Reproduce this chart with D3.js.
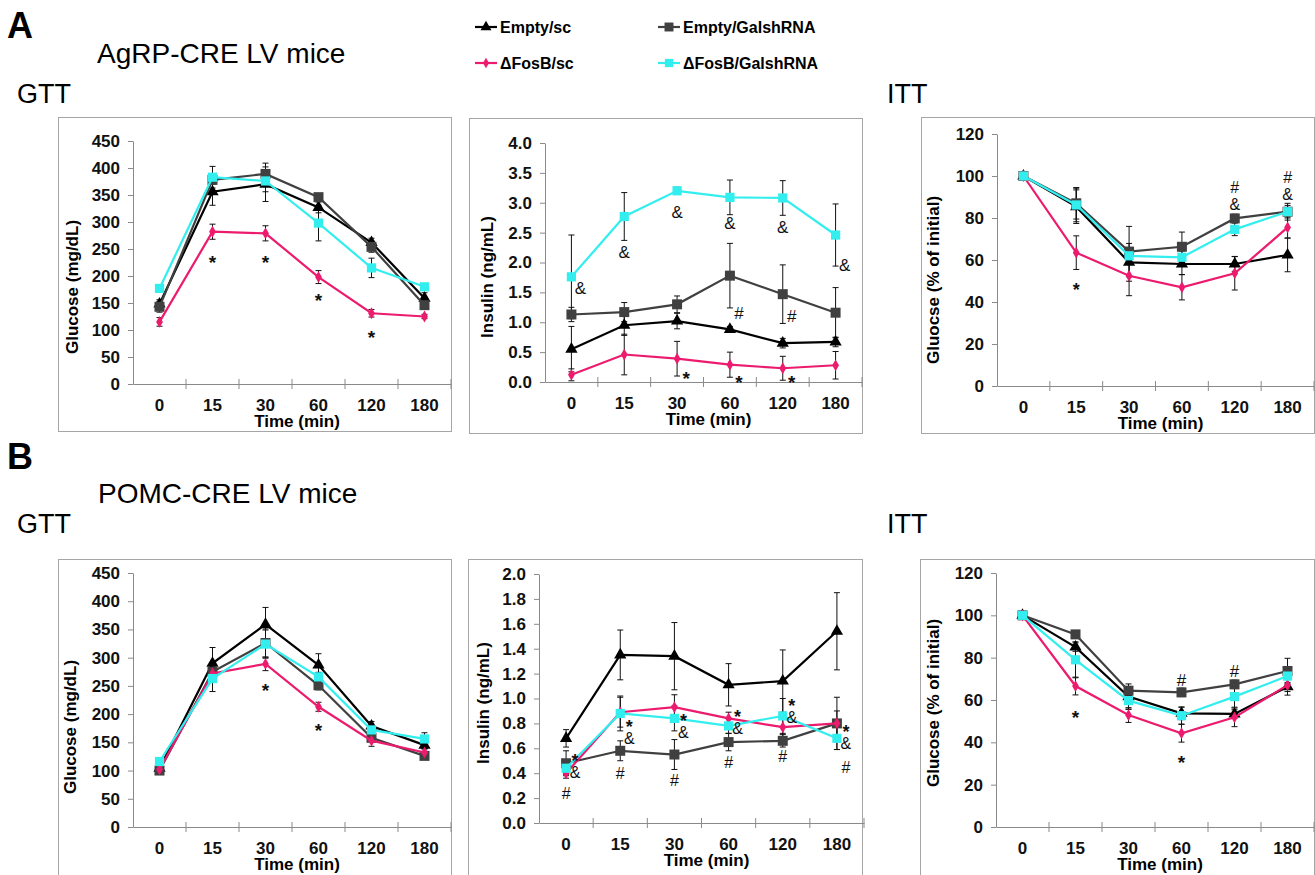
<!DOCTYPE html>
<html>
<head>
<meta charset="utf-8">
<script src="https://cdn.jsdelivr.net/npm/d3@7"></script>
<style>
  body { margin: 0; background: #fff; }
  text { font-family: "Liberation Sans", Arial, sans-serif; }
</style>
</head>
<body>
<div id="fig"></div>
<script>
// time points (categorical axis) and groups
const times = ["0", "15", "30", "60", "120", "180"];
const groups = ["Empty/sc", "Empty/GalshRNA", "ΔFosB/sc", "ΔFosB/GalshRNA"];

// AgRP-CRE, GTT (mg/dL) - rows follow groups
const agrpGttMean = [
  [148, 356, 370, 327, 262, 159],
  [143, 378, 389, 346, 254, 146],
  [115, 282, 279, 198, 131, 125],
  [177, 383, 376, 298, 215, 180]
];
const agrpGttErr = [
  [8, 25, 32, 10, 8, 10],
  [10, 8, 20, 5, 10, 8],
  [8, 14, 14, 12, 7, 4],
  [5, 20, 20, 33, 18, 5]
];
// AgRP-CRE, insulin (ng/mL)
const agrpInsMean = [
  [0.55, 0.95, 1.02, 0.88, 0.65, 0.67],
  [1.13, 1.17, 1.30, 1.78, 1.47, 1.16],
  [0.12, 0.46, 0.39, 0.29, 0.23, 0.28],
  [1.76, 2.77, 3.20, 3.09, 3.08, 2.46]
];
const agrpInsErr = [
  [0.38, 0.17, 0.13, 0.05, 0.08, 0.08],
  [0.12, 0.16, 0.14, 0.54, 0.49, 0.42],
  [0.10, 0.34, 0.29, 0.21, 0.20, 0.23],
  [0.70, 0.40, 0.06, 0.29, 0.29, 0.52]
];
// AgRP-CRE, ITT (% of initial)
const agrpIttMean = [
  [100, 85.4, 58.9, 58.1, 58.1, 62.4],
  [100, 87, 64, 66.3, 79.8, 83],
  [100, 63.5, 52.5, 47, 53.7, 75.5],
  [100, 86.2, 62, 61.3, 74.6, 83]
];
const agrpIttErr = [
  [0, 8, 9, 5, 3.5, 8],
  [0, 7.5, 12, 7, 2, 4],
  [0, 8, 9.5, 6, 8, 5],
  [0, 8, 4, 3, 3, 3]
];
// POMC-CRE, GTT
const pomcGttMean = [
  [104, 290, 359, 287, 179, 145],
  [100, 275, 326, 251, 158, 126],
  [102, 272, 289, 213, 153, 132],
  [116, 263, 324, 266, 172, 156]
];
const pomcGttErr = [
  [6, 28, 30, 20, 8, 6],
  [5, 10, 25, 8, 6, 5],
  [5, 8, 12, 8, 10, 6],
  [5, 23, 25, 8, 6, 11]
];
// POMC-CRE, insulin
const pomcInsMean = [
  [0.68, 1.35, 1.34, 1.11, 1.14, 1.54],
  [0.48, 0.58, 0.55, 0.65, 0.66, 0.80],
  [0.40, 0.89, 0.93, 0.84, 0.77, 0.80],
  [0.44, 0.88, 0.84, 0.78, 0.86, 0.68]
];
const pomcInsErr = [
  [0.07, 0.20, 0.27, 0.17, 0.25, 0.31],
  [0.10, 0.08, 0.12, 0.07, 0.05, 0.21],
  [0.04, 0.12, 0.10, 0.05, 0.10, 0.10],
  [0.05, 0.14, 0.10, 0.06, 0.14, 0.09]
];
// POMC-CRE, ITT
const pomcIttMean = [
  [100, 85, 61.6, 53.7, 53.4, 66.3],
  [100, 91, 64.4, 63.6, 67.4, 73.7],
  [100, 66.6, 52.9, 44.3, 51.8, 67],
  [100, 79, 59.7, 52.6, 61.6, 71.3]
];
const pomcIttErr = [
  [0, 2, 6, 3, 2, 4],
  [0, 1.5, 2, 2, 2, 6],
  [0, 4.2, 3.5, 4.2, 4.4, 3],
  [0, 8.5, 4, 4, 5, 3]
];

// significance marks: [time index, value level of top symbol, symbols (stacked top to bottom), beside point (1) or centred (0)]
const agrpGttMarks = [[1, 235, "*", 0], [2, 235, "*", 0], [3, 165, "*", 0], [4, 96, "*", 0]];
const agrpInsMarks = [[0, 1.57, "&", 1], [1, 2.18, "&", 0], [2, 2.85, "&", 0], [3, 2.66, "&", 0],
  [4, 2.59, "&", 0], [5, 1.96, "&", 1], [3, 1.15, "#", 1], [4, 1.10, "#", 1],
  [2, 0.15, "*", 1], [3, 0.08, "*", 1], [4, 0.08, "*", 1]];
const agrpIttMarks = [[1, 48, "*", 0], [4, 94.8, "#&", 0], [5, 99.5, "#&", 0]];
const pomcGttMarks = [[2, 252, "*", 0], [3, 181, "*", 0]];
const pomcInsMarks = [[0, 0.54, "*&", 1], [0, 0.24, "#", 0],
  [1, 0.81, "*&", 1], [1, 0.40, "#", 0],
  [2, 0.86, "*&", 1], [2, 0.345, "#", 0],
  [3, 0.89, "*&", 1], [3, 0.49, "#", 0],
  [4, 0.98, "*&", 1], [4, 0.54, "#", 0],
  [5, 0.77, "*&", 1], [5, 0.45, "#", 1]];
const pomcIttMarks = [[1, 54.3, "*", 0], [3, 33, "*", 0], [3, 69.4, "#", 0], [4, 73.7, "#", 0]];

const colors = ["#000000", "#404040", "#ec1b6e", "#33eeee"];
const symbols = [d3.symbolTriangle, d3.symbolSquare, d3.symbolDiamond, d3.symbolSquare];
const symSize = [65, 100, 40, 85];

const W = 1315, H = 875;
const svg = d3.select("#fig").append("svg").attr("width", W).attr("height", H);

function panel(p) {
  const g = svg.append("g");
  // frame
  g.append("rect")
    .attr("x", p.frame[0] + 0.5).attr("y", p.frame[1] + 0.5)
    .attr("width", p.frame[2] - p.frame[0] - 1).attr("height", p.frame[3] - p.frame[1] - 1)
    .attr("fill", "none").attr("stroke", "#a6a6a6");

  const x = d3.scaleBand().domain(times).range([p.ax, p.xEnd]).padding(0);
  const y = d3.scaleLinear().domain([0, p.max]).range([p.y0, p.yTop]);

  // y axis
  const yAxis = g.append("g").attr("transform", `translate(${p.ax},0)`)
    .call(d3.axisLeft(y).tickValues(d3.range(0, p.max + p.step / 2, p.step))
      .tickFormat(d3.format(p.fmt)).tickSize(5).tickSizeOuter(0).tickPadding(8));
  yAxis.selectAll("path, line").attr("stroke", "#8a8a8a");
  yAxis.selectAll("text").attr("font-size", 17).attr("font-weight", "bold").attr("fill", "#111")
    .attr("font-family", "'Liberation Sans', Arial, sans-serif");

  // x axis (categories, ticks between categories)
  const xAxis = g.append("g").attr("transform", `translate(0,${p.y0})`)
    .call(d3.axisBottom(x).tickSize(0).tickPadding(15).tickSizeOuter(0));
  xAxis.select(".domain").attr("stroke", "#8a8a8a");
  xAxis.selectAll("text").attr("font-size", 17).attr("font-weight", "bold").attr("fill", "#111")
    .attr("font-family", "'Liberation Sans', Arial, sans-serif");
  g.selectAll(".xtick").data(d3.range(1, times.length + 1)).join("line")
    .attr("x1", i => p.ax + i * x.step()).attr("x2", i => p.ax + i * x.step())
    .attr("y1", p.y0 - 5).attr("y2", p.y0 + 5).attr("stroke", "#8a8a8a");

  g.append("text").attr("x", (p.ax + p.xEnd) / 2 + 5).attr("y", p.y0 + 43)
    .attr("text-anchor", "middle").attr("font-size", 17).attr("font-weight", "bold")
    .text("Time (min)");

  g.append("text").attr("transform", `translate(${p.ylabX},${p.ylabY}) rotate(-90)`)
    .attr("text-anchor", "middle").attr("dominant-baseline", "central")
    .attr("font-size", 17).attr("font-weight", "bold").text(p.ylabel);

  const cx = (d, i) => x(times[i]) + x.bandwidth() / 2;

  // series: error bars, line, markers
  p.means.forEach((vals, s) => {
    const errs = p.errs[s];
    const eb = g.append("g").attr("stroke", "#111").attr("stroke-width", 1);
    vals.forEach((v, i) => {
      if (!errs[i]) return;
      const xx = cx(v, i);
      eb.append("line").attr("x1", xx).attr("x2", xx).attr("y1", y(v - errs[i])).attr("y2", y(v + errs[i]));
      [v - errs[i], v + errs[i]].forEach(e => {
        eb.append("line").attr("x1", xx - 3).attr("x2", xx + 3).attr("y1", y(e)).attr("y2", y(e));
      });
    });
  });
  p.means.forEach((vals, s) => {
    const line = d3.line().x(cx).y(d => y(d));
    g.append("path").datum(vals).attr("d", line)
      .attr("fill", "none").attr("stroke", colors[s]).attr("stroke-width", 2.2);
    g.selectAll(null).data(vals).join("path")
      .attr("transform", (d, i) => `translate(${cx(d, i)},${y(d)})`)
      .attr("d", d3.symbol().type(symbols[s]).size(symSize[s]))
      .attr("fill", colors[s]);
  });

  // significance marks (stacked symbols share one text element)
  const fs = p.markSize;
  g.selectAll(null).data(p.marks).join("text")
    .attr("text-anchor", "middle").attr("fill", "#111")
    .each(function (d) {
      const t = d3.select(this);
      const mx = x(times[d[0]]) + x.bandwidth() / 2 + (d[3] ? 9 : 0);
      Array.from(d[2]).forEach((ch, k) => {
        const star = ch === "*";
        const size = star ? fs + 2 : fs;
        t.append("tspan").attr("x", mx)
          .attr("y", y(d[1]) + k * p.markGap + (star ? 0.62 : 0.36) * size)
          .attr("font-size", size).attr("font-weight", star ? "bold" : "normal")
          .text(ch);
      });
    });
}

panel({ frame: [58, 117, 452, 432], ax: 133, xEnd: 451, y0: 384, yTop: 141, max: 450, step: 50, fmt: "d", markSize: 17, markGap: 16,
  means: agrpGttMean, errs: agrpGttErr, marks: agrpGttMarks, ylabel: "Glucose (mg/dL)", ylabX: 72, ylabY: 287 });
panel({ frame: [469, 118, 863, 434], ax: 545, xEnd: 862, y0: 382, yTop: 143, max: 4, step: 0.5, fmt: ".1f", markSize: 17, markGap: 16,
  means: agrpInsMean, errs: agrpInsErr, marks: agrpInsMarks, ylabel: "Insulin (ng/mL)", ylabX: 487, ylabY: 277 });
panel({ frame: [921, 117, 1315, 434], ax: 997, xEnd: 1314, y0: 386, yTop: 134, max: 120, step: 20, fmt: "d", markSize: 16, markGap: 17,
  means: agrpIttMean, errs: agrpIttErr, marks: agrpIttMarks, ylabel: "Gluocse (% of initial)", ylabX: 933, ylabY: 280 });
panel({ frame: [58, 559, 452, 876], ax: 133, xEnd: 451, y0: 827, yTop: 573, max: 450, step: 50, fmt: "d", markSize: 17, markGap: 16,
  means: pomcGttMean, errs: pomcGttErr, marks: pomcGttMarks, ylabel: "Glucose (mg/dL)", ylabX: 70, ylabY: 727 });
panel({ frame: [468, 559, 863, 876], ax: 539, xEnd: 864, y0: 823, yTop: 574, max: 2, step: 0.2, fmt: ".1f", markSize: 16, markGap: 16,
  means: pomcInsMean, errs: pomcInsErr, marks: pomcInsMarks, ylabel: "Insulin (ng/mL)", ylabX: 483, ylabY: 703 });
panel({ frame: [920, 559, 1315, 876], ax: 996, xEnd: 1314, y0: 827, yTop: 573, max: 120, step: 20, fmt: "d", markSize: 17, markGap: 16,
  means: pomcIttMean, errs: pomcIttErr, marks: pomcIttMarks, ylabel: "Glucose (% of initial)", ylabX: 933, ylabY: 703 });

// headings
const heads = [
  ["A", 7, 38, 36, "bold"], ["B", 7, 469, 36, "bold"],
  ["AgRP-CRE LV mice", 97, 63, 28, "normal"], ["POMC-CRE LV mice", 98, 503, 28, "normal"],
  ["GTT", 17, 103, 27, "normal"], ["ITT", 887, 103, 27, "normal"],
  ["GTT", 17, 533, 27, "normal"], ["ITT", 887, 533, 27, "normal"]
];
svg.selectAll(".head").data(heads).join("text")
  .attr("x", d => d[1]).attr("y", d => d[2]).attr("font-size", d => d[3])
  .attr("font-weight", d => d[4]).attr("fill", "#000").text(d => d[0]);

// legend
const leg = svg.append("g");
groups.forEach((name, s) => {
  const lx = s % 2 === 0 ? 475 : 658;
  const ly = s < 2 ? 27 : 63;
  leg.append("line").attr("x1", lx).attr("x2", lx + 22).attr("y1", ly).attr("y2", ly)
    .attr("stroke", colors[s]).attr("stroke-width", 2.2);
  leg.append("path").attr("transform", `translate(${lx + 11},${ly})`)
    .attr("d", d3.symbol().type(symbols[s]).size(symSize[s] * 0.8)).attr("fill", colors[s]);
  leg.append("text").attr("x", lx + 25).attr("y", ly + 6)
    .attr("font-size", 16).attr("font-weight", "bold").text(name);
});
</script>
</body>
</html>
